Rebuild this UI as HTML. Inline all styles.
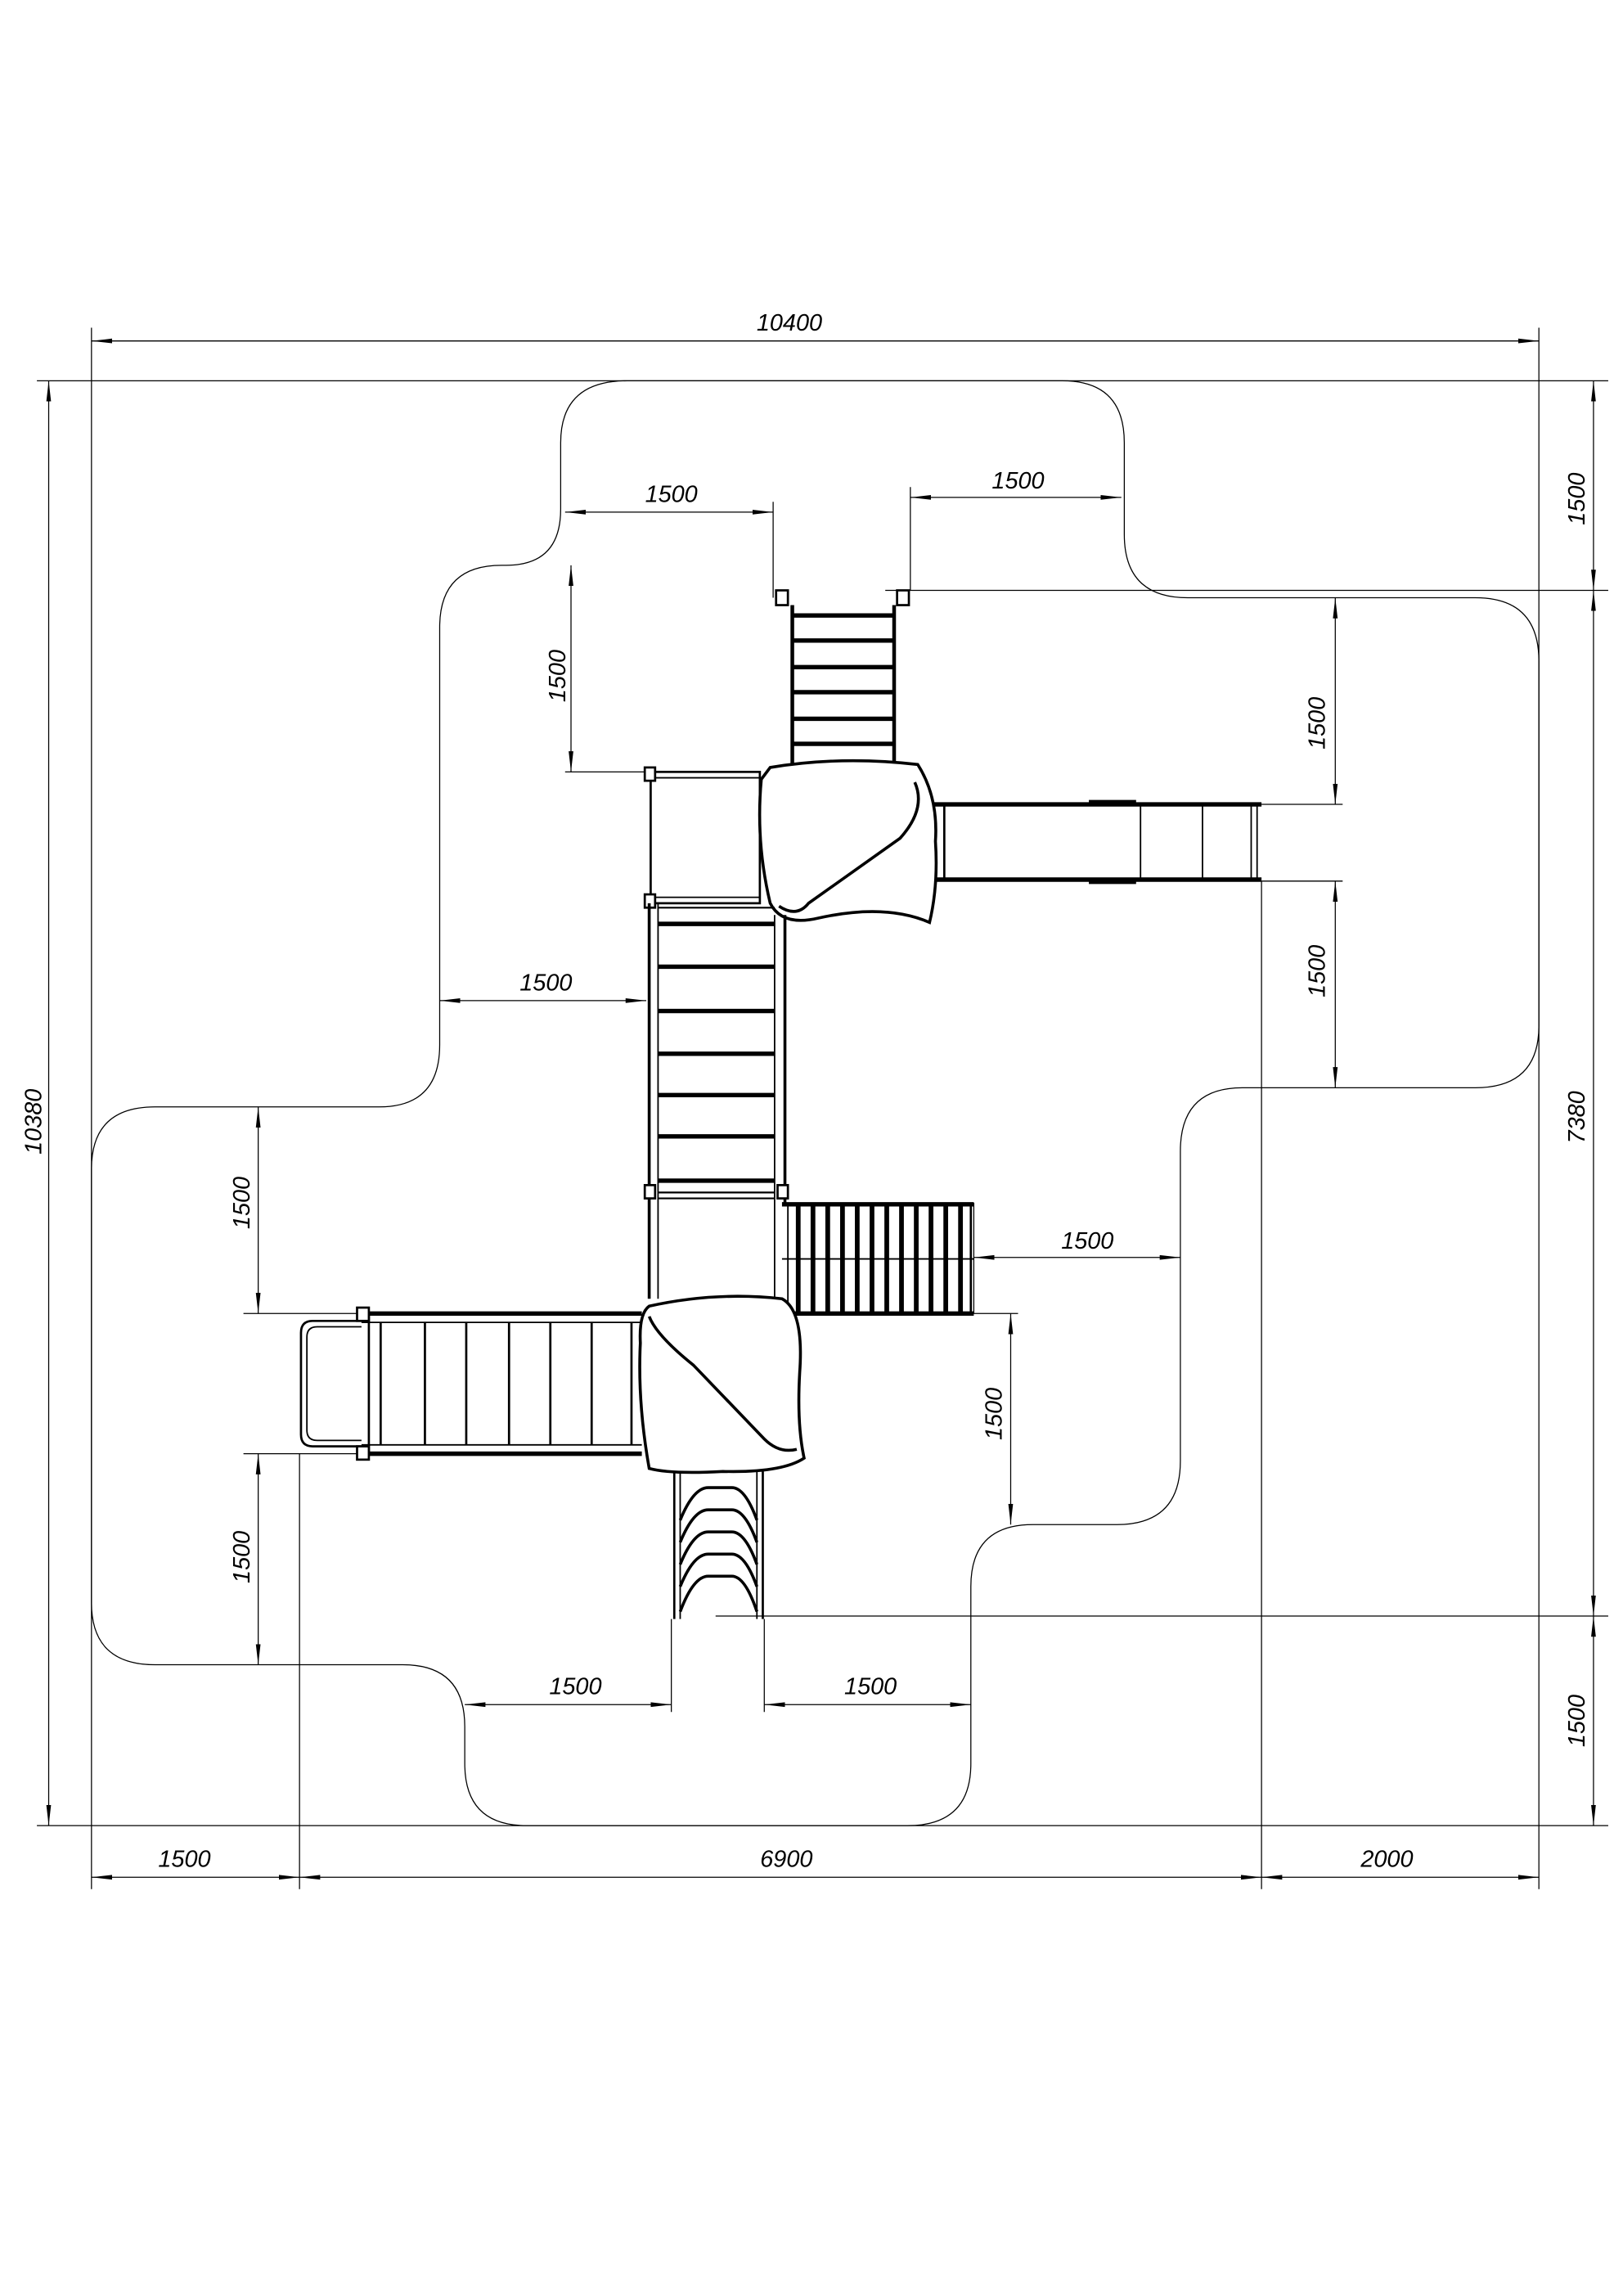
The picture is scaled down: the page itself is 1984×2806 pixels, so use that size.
<!DOCTYPE html>
<html><head><meta charset="utf-8"><style>html,body{margin:0;padding:0;background:#fff}svg{display:block}</style></head>
<body>
<svg width="1984" height="2806" viewBox="0 0 1100 1555.7" xmlns="http://www.w3.org/2000/svg">
<defs>
<marker id="a" viewBox="0 0 14 4" refX="14" refY="2" markerWidth="14" markerHeight="4" markerUnits="userSpaceOnUse" orient="auto-start-reverse"><path d="M0,0.4 L14,2 L0,3.6 Z" fill="#000"/></marker>
</defs>
<rect width="1100" height="1556" fill="#fff"/>
<g stroke="#000" stroke-width="0.7" fill="none">
<!-- frame / extension lines -->
<line x1="62" y1="222" x2="62" y2="1280"/>
<line x1="1043" y1="222" x2="1043" y2="1280"/>
<line x1="25" y1="258" x2="1090" y2="258"/>
<line x1="25" y1="1237" x2="1090" y2="1237"/>
<line x1="203" y1="985" x2="203" y2="1280"/>
<line x1="855" y1="597" x2="855" y2="1280"/>
<line x1="600" y1="400" x2="1090" y2="400"/>
<line x1="485" y1="1095" x2="1090" y2="1095"/>
<!-- main dims -->
<line x1="62" y1="231" x2="1043" y2="231" marker-start="url(#a)" marker-end="url(#a)"/>
<line x1="62" y1="1272" x2="203" y2="1272" marker-start="url(#a)" marker-end="url(#a)"/>
<line x1="203" y1="1272" x2="855" y2="1272" marker-start="url(#a)" marker-end="url(#a)"/>
<line x1="855" y1="1272" x2="1043" y2="1272" marker-start="url(#a)" marker-end="url(#a)"/>
<line x1="33" y1="258" x2="33" y2="1237" marker-start="url(#a)" marker-end="url(#a)"/>
<line x1="1080" y1="258" x2="1080" y2="400" marker-start="url(#a)" marker-end="url(#a)"/>
<line x1="1080" y1="400" x2="1080" y2="1095" marker-start="url(#a)" marker-end="url(#a)"/>
<line x1="1080" y1="1095" x2="1080" y2="1237" marker-start="url(#a)" marker-end="url(#a)"/>
<!-- safety zone -->
<path d="M425,258 L720,258 Q762,258 762,300 L762,362 Q762,405 805,405 L1000,405 Q1043,405 1043,448 L1043,695 Q1043,737 1000,737 L842,737 Q800,737 800,780 L800,990 Q800,1033 757,1033 L700,1033 Q658,1033 658,1075 L658,1195 Q658,1237 615,1237 L357,1237 Q315,1237 315,1195 L315,1170 Q315,1128 273,1128 L105,1128 Q62,1128 62,1086 L62,792 Q62,750 105,750 L257,750 Q298,750 298,708 L298,425 Q298,383 340,383 L343,383 Q380,383 380,345 L380,300 Q380,258 425,258 Z"/>
<!-- local dims -->
<line x1="524" y1="340" x2="524" y2="405"/>
<line x1="383" y1="347" x2="524" y2="347" marker-start="url(#a)" marker-end="url(#a)"/>
<line x1="617" y1="330" x2="617" y2="400"/>
<line x1="617" y1="337" x2="760" y2="337" marker-start="url(#a)" marker-end="url(#a)"/>
<line x1="383" y1="523" x2="440" y2="523"/>
<line x1="387" y1="383" x2="387" y2="523" marker-start="url(#a)" marker-end="url(#a)"/>
<line x1="855" y1="545" x2="910" y2="545"/>
<line x1="905" y1="405" x2="905" y2="545" marker-start="url(#a)" marker-end="url(#a)"/>
<line x1="855" y1="597" x2="910" y2="597"/>
<line x1="905" y1="597" x2="905" y2="737" marker-start="url(#a)" marker-end="url(#a)"/>
<line x1="298" y1="678" x2="438" y2="678" marker-start="url(#a)" marker-end="url(#a)"/>
<line x1="165" y1="890" x2="245" y2="890"/>
<line x1="175" y1="750" x2="175" y2="890" marker-start="url(#a)" marker-end="url(#a)"/>
<line x1="165" y1="985" x2="245" y2="985"/>
<line x1="175" y1="985" x2="175" y2="1128" marker-start="url(#a)" marker-end="url(#a)"/>
<line x1="660" y1="852" x2="800" y2="852" marker-start="url(#a)" marker-end="url(#a)"/>
<line x1="660" y1="815" x2="660" y2="890"/>
<line x1="530" y1="890" x2="690" y2="890"/>
<line x1="685" y1="890" x2="685" y2="1033" marker-start="url(#a)" marker-end="url(#a)"/>
<line x1="455" y1="1097" x2="455" y2="1160"/>
<line x1="518" y1="1097" x2="518" y2="1160"/>
<line x1="315" y1="1155" x2="455" y2="1155" marker-start="url(#a)" marker-end="url(#a)"/>
<line x1="518" y1="1155" x2="658" y2="1155" marker-start="url(#a)" marker-end="url(#a)"/>
</g>
<!-- equipment -->
<g stroke="#000" fill="none" stroke-width="2">
<!-- top ladder -->
<rect x="526" y="400" width="8" height="10" stroke-width="1.5"/>
<rect x="608" y="400" width="8" height="10" stroke-width="1.5"/>
<line x1="537" y1="410" x2="537" y2="518" stroke-width="2.5"/>
<line x1="606" y1="410" x2="606" y2="518" stroke-width="2.5"/>
<g stroke-width="3"><line x1="537" y1="417" x2="606" y2="417"/><line x1="537" y1="434" x2="606" y2="434"/><line x1="537" y1="452" x2="606" y2="452"/><line x1="537" y1="469" x2="606" y2="469"/><line x1="537" y1="487" x2="606" y2="487"/><line x1="537" y1="504" x2="606" y2="504"/></g>
<!-- upper-left deck -->
<rect x="441" y="523" width="74" height="89" stroke-width="1.5"/>
<line x1="441" y1="527" x2="515" y2="527" stroke-width="1"/>
<line x1="441" y1="608" x2="515" y2="608" stroke-width="1"/>
<rect x="437" y="520" width="7" height="9" fill="#fff" stroke-width="1.5"/>
<rect x="437" y="606" width="7" height="9" fill="#fff" stroke-width="1.5"/>
<!-- right slide -->
<line x1="632" y1="545" x2="855" y2="545" stroke-width="3"/>
<line x1="632" y1="596" x2="855" y2="596" stroke-width="3"/>
<line x1="640" y1="545" x2="640" y2="596" stroke-width="1.5"/>
<line x1="773" y1="545" x2="773" y2="596" stroke-width="1"/>
<line x1="815" y1="545" x2="815" y2="596" stroke-width="1"/>
<line x1="848" y1="545" x2="848" y2="596" stroke-width="1"/>
<line x1="852" y1="545" x2="852" y2="596" stroke-width="1"/>
<line x1="738" y1="544" x2="770" y2="544" stroke-width="4"/>
<line x1="738" y1="597" x2="770" y2="597" stroke-width="4"/>
<!-- upper blob -->
<path d="M522,520 Q570,512 622,518 Q636,540 634,570 Q636,600 630,625 Q600,612 555,622 Q530,628 522,612 Q512,570 516,528 Z" fill="#fff" stroke-width="2"/>
<path d="M620,530 Q628,548 610,568 L548,612 Q540,622 528,614" stroke-width="2"/>
<!-- middle bridge -->
<line x1="440" y1="612" x2="440" y2="880" stroke-width="2"/>
<line x1="446" y1="612" x2="446" y2="880" stroke-width="1"/>
<line x1="525" y1="620" x2="525" y2="880" stroke-width="1"/>
<line x1="532" y1="620" x2="532" y2="815" stroke-width="2"/>
<line x1="446" y1="615" x2="525" y2="615" stroke-width="1.2"/>
<g stroke-width="3"><line x1="446" y1="626" x2="525" y2="626"/><line x1="446" y1="655" x2="525" y2="655"/><line x1="446" y1="685" x2="525" y2="685"/><line x1="446" y1="714" x2="525" y2="714"/><line x1="446" y1="742" x2="525" y2="742"/><line x1="446" y1="770" x2="525" y2="770"/><line x1="446" y1="800" x2="525" y2="800"/></g>
<line x1="446" y1="808" x2="525" y2="808" stroke-width="1.2"/>
<line x1="446" y1="812" x2="525" y2="812" stroke-width="1.2"/>
<rect x="437" y="803" width="7" height="9" fill="#fff" stroke-width="1.5"/>
<rect x="527" y="803" width="7" height="9" fill="#fff" stroke-width="1.5"/>
<!-- right staircase -->
<line x1="530" y1="816" x2="660" y2="816" stroke-width="3"/>
<line x1="530" y1="890" x2="660" y2="890" stroke-width="3"/>
<line x1="530" y1="853" x2="660" y2="853" stroke-width="1"/>
<g stroke-width="3.2">
<line x1="541" y1="816" x2="541" y2="890"/><line x1="551" y1="816" x2="551" y2="890"/><line x1="561" y1="816" x2="561" y2="890"/><line x1="571" y1="816" x2="571" y2="890"/><line x1="581" y1="816" x2="581" y2="890"/><line x1="591" y1="816" x2="591" y2="890"/><line x1="601" y1="816" x2="601" y2="890"/><line x1="611" y1="816" x2="611" y2="890"/><line x1="621" y1="816" x2="621" y2="890"/><line x1="631" y1="816" x2="631" y2="890"/><line x1="641" y1="816" x2="641" y2="890"/><line x1="651" y1="816" x2="651" y2="890"/></g>
<line x1="534" y1="816" x2="534" y2="890" stroke-width="1"/>
<line x1="658" y1="816" x2="658" y2="890" stroke-width="1.5"/>
<!-- left slide -->
<line x1="245" y1="890" x2="435" y2="890" stroke-width="3"/>
<line x1="245" y1="985" x2="435" y2="985" stroke-width="3"/>
<line x1="245" y1="896" x2="435" y2="896" stroke-width="1"/>
<line x1="245" y1="979" x2="435" y2="979" stroke-width="1"/>
<path d="M245,895 L212,895 Q204,895 204,903 L204,972 Q204,980 212,980 L245,980" stroke-width="1.5"/>
<path d="M245,899 L215,899 Q208,899 208,906 L208,969 Q208,976 215,976 L245,976" stroke-width="1"/>
<line x1="250" y1="890" x2="250" y2="985" stroke-width="1.5"/>
<line x1="258" y1="896" x2="258" y2="979" stroke-width="1.5"/>
<g stroke-width="1.5"><line x1="288" y1="896" x2="288" y2="979"/><line x1="316" y1="896" x2="316" y2="979"/><line x1="345" y1="896" x2="345" y2="979"/><line x1="373" y1="896" x2="373" y2="979"/><line x1="401" y1="896" x2="401" y2="979"/><line x1="428" y1="896" x2="428" y2="979"/></g>
<rect x="242" y="886" width="8" height="9" fill="#fff" stroke-width="1.5"/>
<rect x="242" y="980" width="8" height="9" fill="#fff" stroke-width="1.5"/>
<!-- lower blob -->
<path d="M440,885 Q485,875 530,880 Q545,888 542,930 Q540,965 545,988 Q530,998 490,997 Q455,999 440,995 Q432,950 434,910 Q433,890 440,885 Z" fill="#fff" stroke-width="2"/>
<path d="M440,892 Q445,905 470,925 L518,975 Q528,985 540,982" stroke-width="2"/>
<!-- bottom ladder -->
<line x1="457" y1="997" x2="457" y2="1097" stroke-width="1.5"/>
<line x1="461" y1="997" x2="461" y2="1097" stroke-width="1"/>
<line x1="513" y1="997" x2="513" y2="1097" stroke-width="1"/>
<line x1="517" y1="997" x2="517" y2="1097" stroke-width="1.5"/>
<g stroke-width="2">
<path d="M461,1030 Q470,1008 480,1008 L496,1008 Q505,1008 513,1030"/>
<path d="M461,1045 Q470,1023 480,1023 L496,1023 Q505,1023 513,1045"/>
<path d="M461,1060 Q470,1038 480,1038 L496,1038 Q505,1038 513,1060"/>
<path d="M461,1075 Q470,1053 480,1053 L496,1053 Q505,1053 513,1075"/>
<path d="M461,1092 Q470,1068 480,1068 L496,1068 Q505,1068 513,1092"/>
</g>
</g>
<!-- labels -->
<g font-family="Liberation Sans, sans-serif" font-style="italic" font-size="16" fill="#000" text-anchor="middle">
<text x="535" y="224">10400</text>
<text x="455" y="340">1500</text>
<text x="690" y="331">1500</text>
<text x="370" y="671">1500</text>
<text x="737" y="846">1500</text>
<text x="390" y="1148">1500</text>
<text x="590" y="1148">1500</text>
<text x="125" y="1265">1500</text>
<text x="533" y="1265">6900</text>
<text x="940" y="1265">2000</text>
<text transform="translate(383,458) rotate(-90)">1500</text>
<text transform="translate(898,490) rotate(-90)">1500</text>
<text transform="translate(898,658) rotate(-90)">1500</text>
<text transform="translate(169,815) rotate(-90)">1500</text>
<text transform="translate(169,1055) rotate(-90)">1500</text>
<text transform="translate(679,958) rotate(-90)">1500</text>
<text transform="translate(1074,338) rotate(-90)">1500</text>
<text transform="translate(1074,757) rotate(-90)">7380</text>
<text transform="translate(1074,1166) rotate(-90)">1500</text>
<text transform="translate(28,760) rotate(-90)">10380</text>
</g>
</svg>
</body></html>
